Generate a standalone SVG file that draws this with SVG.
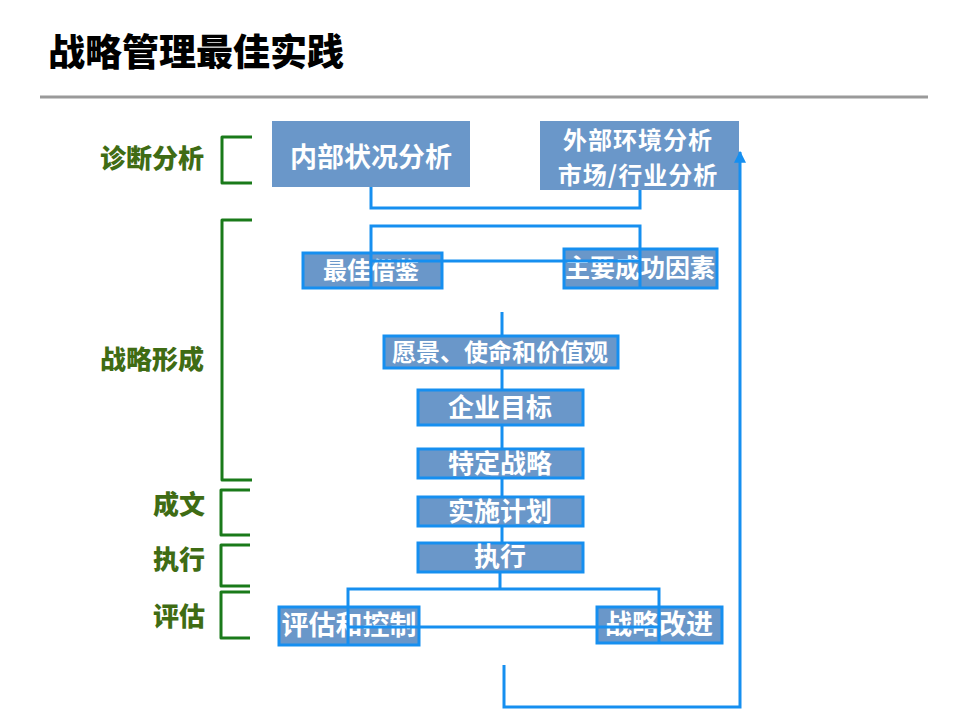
<svg xmlns="http://www.w3.org/2000/svg" width="960" height="720" viewBox="0 0 960 720">
<style>
text{font-family:"Noto Sans CJK SC","Noto Sans",sans-serif;font-weight:bold}
.box{fill:#6a97c9}
.bb{fill:#6a97c9;stroke:#168ff0;stroke-width:3}
.bt{fill:#ffffff;text-anchor:middle}
.lbl{fill:#3f6c14;font-size:26px;text-anchor:end;font-weight:900}
.br{fill:none;stroke:#1a7a1a;stroke-width:3;stroke-linejoin:round}
.c{fill:none;stroke:#168ff0;stroke-width:3}
</style>
<defs>
<marker id="ah" viewBox="0 0 10 10" refX="9" refY="5" markerWidth="4" markerHeight="4" orient="auto" markerUnits="strokeWidth">
<path d="M0,0 L10,5 L0,10 z" fill="#168ff0"/>
</marker>
</defs>
<rect width="960" height="720" fill="#ffffff"/>
<g id="title">
<text x="48" y="66" font-size="37" fill="#000000" style="font-weight:900">战略管理最佳实践</text>
<line x1="40" y1="97" x2="928" y2="97" stroke="#9a9a9a" stroke-width="3"/>
</g>
<g id="labels">
<text class="lbl" x="204" y="168">诊断分析</text>
<path class="br" d="M252,137 H222 V183 H252"/>
<text class="lbl" x="204" y="369">战略形成</text>
<path class="br" d="M252,220 H222 V480 H252"/>
<text class="lbl" x="205" y="514">成文</text>
<path class="br" d="M250,490 H221 V535 H250"/>
<text class="lbl" x="205" y="569">执行</text>
<path class="br" d="M250,545 H221 V586 H250"/>
<text class="lbl" x="205" y="626">评估</text>
<path class="br" d="M250,592 H221 V638 H250"/>
</g>
<g id="n-internal">
<rect class="box" x="272" y="121" width="198" height="66"/>
<text class="bt" x="371" y="167" font-size="27">内部状况分析</text>
</g>
<g id="n-external">
<rect class="box" x="540" y="121" width="199" height="69"/>
<text class="bt" x="638" y="149" font-size="24" letter-spacing="1">外部环境分析</text>
<text class="bt" x="638" y="184" font-size="24" letter-spacing="1">市场/行业分析</text>
</g>
<g id="n-best">
<rect class="bb" x="303" y="253" width="139" height="35"/>
<text class="bt" x="371" y="279" font-size="24">最佳借鉴</text>
</g>
<g id="n-ksf">
<rect class="bb" x="564" y="249" width="153" height="39"/>
<text class="bt" x="640" y="277" font-size="25">主要成功因素</text>
</g>
<g id="n-vision">
<rect class="bb" x="384" y="336" width="234" height="32"/>
<text class="bt" x="500" y="361" font-size="24">愿景、使命和价值观</text>
</g>
<g id="n-goal">
<rect class="bb" x="418" y="390" width="165" height="35"/>
<text class="bt" x="500" y="417" font-size="26">企业目标</text>
</g>
<g id="n-strategy">
<rect class="bb" x="418" y="449" width="165" height="29"/>
<text class="bt" x="500" y="473" font-size="26">特定战略</text>
</g>
<g id="n-plan">
<rect class="bb" x="418" y="497" width="165" height="29"/>
<text class="bt" x="500" y="521" font-size="26">实施计划</text>
</g>
<g id="n-exec">
<rect class="bb" x="418" y="543" width="165" height="29"/>
<text class="bt" x="500" y="566" font-size="26">执行</text>
</g>
<g id="n-eval">
<rect class="bb" x="279" y="607" width="140" height="38"/>
<text class="bt" x="349" y="635" font-size="27">评估和控制</text>
</g>
<g id="n-improve">
<rect class="bb" x="597" y="607" width="125" height="36"/>
<text class="bt" x="659" y="634" font-size="27">战略改进</text>
</g>
<g id="connectors">
<path class="c" d="M371,187 V208 H640 V190"/>
<path class="c" d="M371,289 V226 H640 V288 M371,261 H640"/>
<path class="c" d="M502,312 V336 M502,368 V390 M502,425 V449 M502,478 V497 M502,526 V543 M500,572 V589"/>
<path class="c" d="M348,645 V589 H659 V643 M348,627 H659"/>
<path class="c" d="M504,665 V707 H740 V152" marker-end="url(#ah)"/>
</g>
</svg>
